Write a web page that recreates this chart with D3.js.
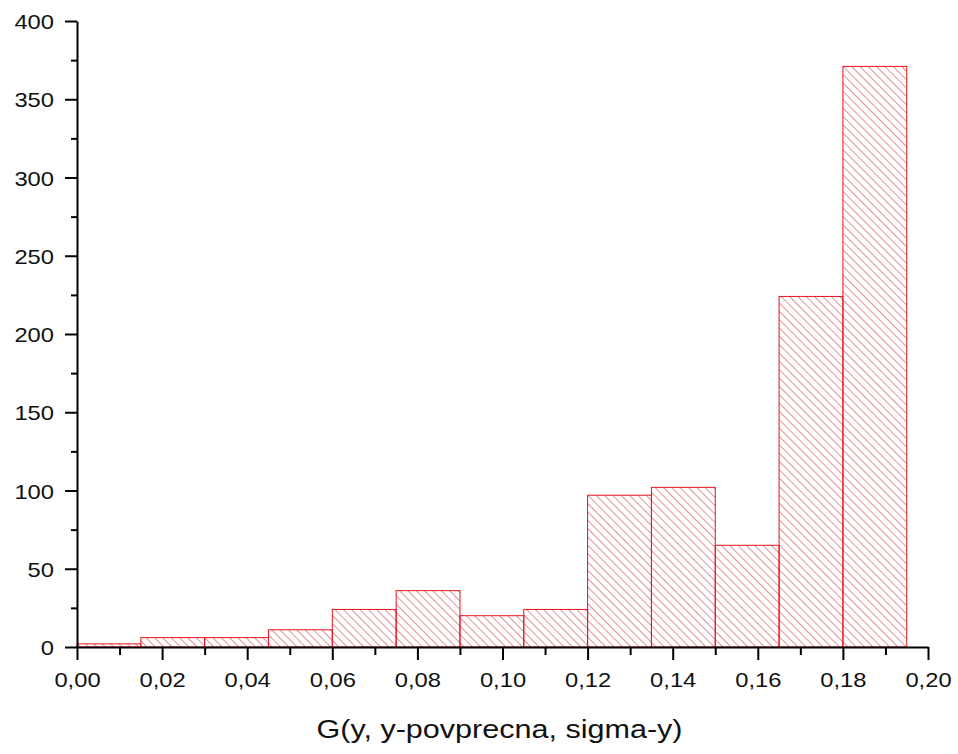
<!DOCTYPE html>
<meta charset="utf-8">
<html>
    <head>
        <script src="https://d3js.org/d3.v7.min.js"></script>
        <style>
            body { margin: 0; background: #fff; }
            text { font-family: "Liberation Sans", Arial, sans-serif; }
        </style>
    </head>
    <body>
        <div id="viz"></div>
    <script>
        // histogram bins (left edges) and counts
        const binStarts = [0.000, 0.015, 0.030, 0.045, 0.060, 0.075, 0.090, 0.105, 0.120, 0.135, 0.150, 0.165, 0.180];
        const counts = [2, 6, 6, 11, 24, 36, 20, 24, 97, 102, 65, 224, 371];
        const binWidth = 0.015;
        const xTicks = [0, 0.02, 0.04, 0.06, 0.08, 0.10, 0.12, 0.14, 0.16, 0.18, 0.20];
        const yTicks = [0, 50, 100, 150, 200, 250, 300, 350, 400];
        const xTitle = "G(y, y-povprecna, sigma-y)";

        const w = 958, h = 754;
        const margin = {top: 21, right: 30, bottom: 107, left: 77};
        const barColor = "#e8141c",
            hatchColor = "#c83848";
        const stretch = 1.13; // labels in the original are a bit wide

        const svg = d3.select("#viz")
            .append("svg")
            .attr("width", w)
            .attr("height", h);

        const x = d3.scaleLinear()
            .domain([0, 0.2])
            .range([margin.left, 928]);
        const y = d3.scaleLinear()
            .domain([0, 400])
            .range([h - margin.bottom, margin.top]);

        // hatch pattern, lines going down to the right
        svg.append("defs").append("pattern")
            .attr("id", "hatch")
            .attr("patternUnits", "userSpaceOnUse")
            .attr("width", 5.9)
            .attr("height", 10)
            .attr("patternTransform", "rotate(-45)")
            .append("line")
            .attr("x1", 0).attr("y1", 0)
            .attr("x2", 0).attr("y2", 10)
            .attr("stroke", hatchColor)
            .attr("stroke-width", 1.1);

        svg.selectAll(".bar")
            .data(binStarts)
            .join("rect")
            .classed("bar", true)
            .attr("x", d => x(d))
            .attr("width", d => x(d + binWidth) - x(d))
            .attr("y", (d, i) => y(counts[i]))
            .attr("height", (d, i) => y(0) - y(counts[i]))
            .attr("fill", "url(#hatch)")
            .attr("stroke", barColor)
            .attr("stroke-width", 1);

        // minor ticks
        svg.append("g")
            .attr("transform", `translate(0,${y(0)})`)
            .call(d3.axisBottom(x).tickValues(d3.range(0.01, 0.2, 0.02)).tickSize(8).tickFormat(""))
            .call(g => g.select(".domain").remove())
            .selectAll("line").attr("stroke-width", 2);
        svg.append("g")
            .attr("transform", `translate(${x(0)},0)`)
            .call(d3.axisLeft(y).tickValues(d3.range(25, 400, 50)).tickSize(6).tickFormat(""))
            .call(g => g.select(".domain").remove())
            .selectAll("line").attr("stroke-width", 2);

        // major axes
        const xAxis = svg.append("g")
            .attr("transform", `translate(0,${y(0)})`)
            .call(d3.axisBottom(x)
                .tickValues(xTicks)
                .tickSize(13)
                .tickSizeOuter(0)
                .tickPadding(12)
                .tickFormat(d => d3.format(".2f")(d).replace(".", ",")));
        const yAxis = svg.append("g")
            .attr("transform", `translate(${x(0)},0)`)
            .call(d3.axisLeft(y)
                .tickValues(yTicks)
                .tickSize(12)
                .tickSizeOuter(0)
                .tickPadding(11));

        [xAxis, yAxis].forEach(g => {
            g.selectAll("path, line").attr("stroke", "#000").attr("stroke-width", 2);
            g.selectAll("text")
                .attr("fill", "#111")
                .style("font-size", "21px")
                .style("font-family", "'Liberation Sans', Arial, sans-serif")
                .each(function() {
                    const len = this.getComputedTextLength();
                    d3.select(this)
                        .attr("textLength", len * stretch)
                        .attr("lengthAdjust", "spacingAndGlyphs");
                });
        });
        yAxis.selectAll("text").attr("dy", "0.36em");

        svg.append("text")
            .attr("x", (x(0) + x(0.2)) / 2 - 3)
            .attr("y", 738)
            .attr("text-anchor", "middle")
            .attr("fill", "#111")
            .style("font-size", "25px")
            .attr("textLength", 366)
            .attr("lengthAdjust", "spacingAndGlyphs")
            .text(xTitle);
    </script>
    </body>
</html>
